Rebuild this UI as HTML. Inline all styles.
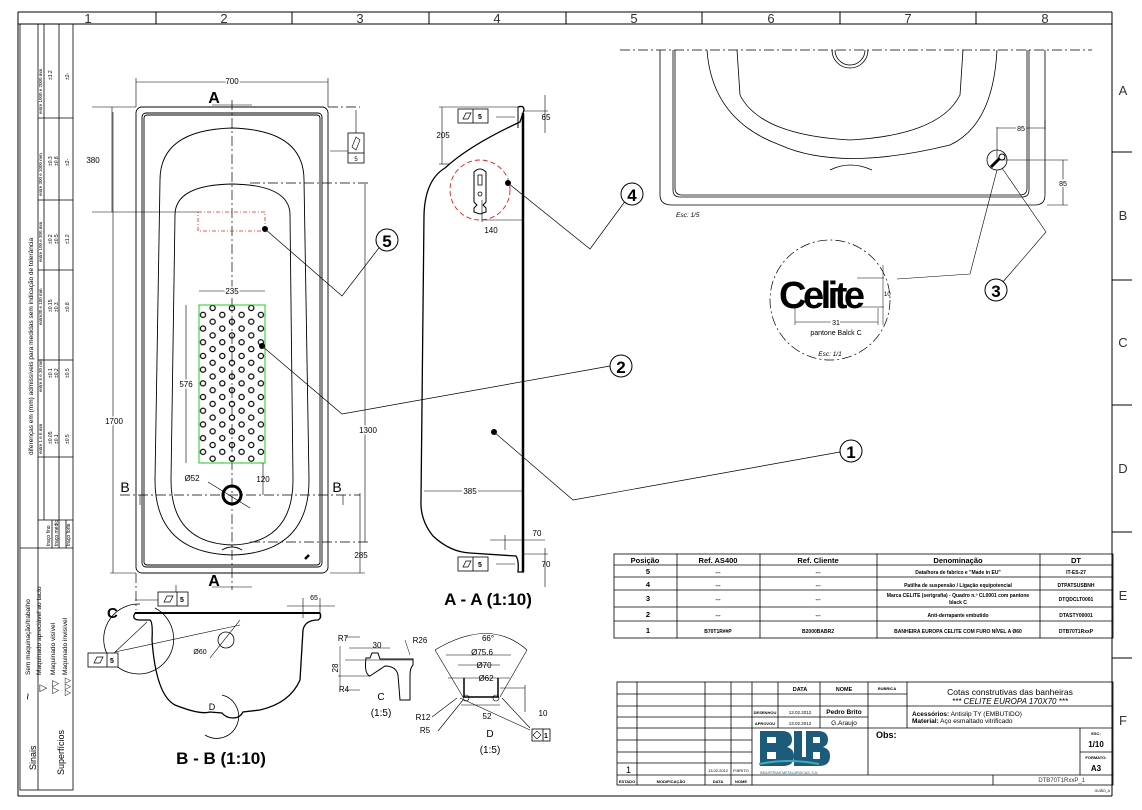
<!DOCTYPE html>
<html><head><meta charset="utf-8"><style>
html,body{margin:0;padding:0;background:#fff;}
svg{display:block;font-family:"Liberation Sans",sans-serif;}
</style></head><body>
<svg width="1142" height="810" viewBox="0 0 1142 810" xmlns="http://www.w3.org/2000/svg">
<defs>
<pattern id="holes" patternUnits="userSpaceOnUse" x="193.35" y="301.15" width="19.3" height="13.7">
<g fill="none" stroke="#000" stroke-width="1.2">
<circle cx="9.65" cy="0" r="2.6"/><circle cx="9.65" cy="13.7" r="2.6"/>
<circle cx="0" cy="6.85" r="2.6"/><circle cx="19.3" cy="6.85" r="2.6"/>
</g></pattern>
</defs>
<rect width="1142" height="810" fill="#fff"/>
<g stroke="#000" fill="none" stroke-width="1">
<line x1="18" y1="12" x2="1112" y2="12"/>
<line x1="18" y1="24" x2="1112" y2="24"/>
<line x1="18" y1="12" x2="18" y2="796"/>
<line x1="1112" y1="12" x2="1112" y2="796"/>
<line x1="18" y1="796" x2="1112" y2="796"/>
<line x1="156" y1="12" x2="156" y2="24"/><line x1="292" y1="12" x2="292" y2="24"/><line x1="429" y1="12" x2="429" y2="24"/><line x1="566" y1="12" x2="566" y2="24"/><line x1="702" y1="12" x2="702" y2="24"/><line x1="840" y1="12" x2="840" y2="24"/><line x1="976" y1="12" x2="976" y2="24"/>
<line x1="1112" y1="152" x2="1132" y2="152"/><line x1="1112" y1="280" x2="1132" y2="280"/><line x1="1112" y1="405" x2="1132" y2="405"/><line x1="1112" y1="532" x2="1132" y2="532"/><line x1="1112" y1="658" x2="1132" y2="658"/>
</g>
<g font-size="13" fill="#333" text-anchor="middle">
<text x="88" y="23">1</text><text x="224" y="23">2</text><text x="360" y="23">3</text><text x="497" y="23">4</text><text x="634" y="23">5</text><text x="771" y="23">6</text><text x="908" y="23">7</text><text x="1045" y="23">8</text>
<text x="1123" y="95">A</text><text x="1123" y="220">B</text><text x="1123" y="347">C</text><text x="1123" y="473">D</text><text x="1123" y="600">E</text><text x="1123" y="725">F</text>
</g>

<g stroke="#000" fill="none" stroke-width="0.8">
<rect x="20" y="24" width="53" height="766"/>
<line x1="20" y1="548" x2="73" y2="548"/>
<line x1="38" y1="24" x2="38" y2="790"/>
<line x1="44" y1="24" x2="44" y2="520"/>
<line x1="59" y1="24" x2="59" y2="548"/>
<line x1="38" y1="520" x2="73" y2="520"/>
<line x1="38" y1="457" x2="73" y2="457"/><line x1="38" y1="360" x2="73" y2="360"/><line x1="38" y1="270" x2="73" y2="270"/><line x1="38" y1="200" x2="73" y2="200"/><line x1="38" y1="118" x2="73" y2="118"/>
<line x1="52" y1="520" x2="52" y2="548"/><line x1="66" y1="520" x2="66" y2="548"/>
</g>
<g font-size="6.5" fill="#000">
<text transform="translate(33,455) rotate(-90)">diferenças em (mm) admissíveis para medidas sem indicação de tolerância</text>
<text transform="translate(42,454) rotate(-90)" font-size="4.5">entre 1 e 6 mm</text>
<text transform="translate(42,392) rotate(-90)" font-size="4.5">entre 6 e 30 mm</text>
<text transform="translate(42,325) rotate(-90)" font-size="4.5">entre30 e 100 mm</text>
<text transform="translate(42,262) rotate(-90)" font-size="4.5">entre 100 e 300 mm</text>
<text transform="translate(42,196) rotate(-90)" font-size="4.5">entre 300 e 1000 mm</text>
<text transform="translate(42,114) rotate(-90)" font-size="4.5">entre 1000 e 2000 mm</text>
<g font-size="5">
<text transform="translate(52,444) rotate(-90)">±0.05</text><text transform="translate(52,378) rotate(-90)">±0.1</text><text transform="translate(52,312) rotate(-90)">±0.15</text><text transform="translate(52,244) rotate(-90)">±0.2</text><text transform="translate(52,166) rotate(-90)">±0.3</text><text transform="translate(52,80) rotate(-90)">±1.2</text>
<text transform="translate(58,444) rotate(-90)">±0.1</text><text transform="translate(58,378) rotate(-90)">±0.2</text><text transform="translate(58,312) rotate(-90)">±0.3</text><text transform="translate(58,244) rotate(-90)">±0.5</text><text transform="translate(58,166) rotate(-90)">±0.8</text>
<text transform="translate(69,444) rotate(-90)">±0.5</text><text transform="translate(69,378) rotate(-90)">±0.5</text><text transform="translate(69,312) rotate(-90)">±0.8</text><text transform="translate(69,244) rotate(-90)">±1.2</text><text transform="translate(69,166) rotate(-90)">±2-</text><text transform="translate(69,80) rotate(-90)">±2-</text>
<text transform="translate(50,546) rotate(-90)">traço fino</text><text transform="translate(58,546) rotate(-90)">traço médio</text><text transform="translate(70,546) rotate(-90)">traço forte</text>
</g>
<text transform="translate(30,675) rotate(-90)">Sem maquinação/trabalho</text>
<text transform="translate(41,675) rotate(-90)">Maquinado apreciável ao tacto</text>
<text transform="translate(55,675) rotate(-90)">Maquinado visível</text>
<text transform="translate(67,675) rotate(-90)">Maquinado invisível</text>
<text transform="translate(36,770) rotate(-90)" font-size="9">Sinais</text>
<text transform="translate(64,775) rotate(-90)" font-size="9">Superfícios</text>
<text transform="translate(32,700) rotate(-90)" font-size="12">~</text>
<text transform="translate(46,692) rotate(-90)" font-size="10">▽</text>
<text transform="translate(58,694) rotate(-90)" font-size="9">▽▽</text>
<text transform="translate(70,696) rotate(-90)" font-size="8">▽▽▽</text>
</g>

<g stroke="#000" fill="none" stroke-width="0.9">
<rect x="136" y="107" width="192" height="466" rx="6"/>
<rect x="142" y="113" width="180" height="454" rx="4"/>
<rect x="144" y="115" width="176" height="450" rx="3"/>
<path d="M160,180 Q160,130 232,128 Q304,130 304,180 L309,480 Q309,553 232,555 Q155,553 155,480 Z"/>
<path d="M175,215 Q175,185 232,184 Q290,185 290,215 L293,480 Q293,543 232,545 Q171,543 171,480 Z"/>
<path d="M222,550 Q232,544 242,550"/>
</g>
<g stroke="#000" fill="none" stroke-width="0.7" stroke-dasharray="10,3,2,3">
<line x1="232" y1="100" x2="232" y2="590"/>
<line x1="120" y1="495" x2="360" y2="495"/>
<line x1="250" y1="183" x2="370" y2="183"/>
<line x1="250" y1="542" x2="370" y2="542"/>
<line x1="328" y1="107" x2="360" y2="107"/>
<line x1="136" y1="573" x2="136" y2="610"/>
</g>
<rect x="199" y="305" width="66" height="158" fill="url(#holes)" stroke="#2c2" stroke-width="1"/>
<rect x="198" y="212" width="67" height="19" fill="none" stroke="#d22" stroke-width="0.8" stroke-dasharray="4,2,1,2"/>
<circle cx="232" cy="495" r="9" fill="none" stroke="#000" stroke-width="3"/>
<line x1="208" y1="482" x2="250" y2="508" stroke="#000" stroke-width="0.7"/>
<path d="M305,559 l4,-4" stroke="#000" stroke-width="2.5"/>
<g stroke="#000" stroke-width="0.6" fill="none">
<line x1="136" y1="82" x2="328" y2="82"/><line x1="136" y1="78" x2="136" y2="107"/><line x1="328" y1="78" x2="328" y2="107"/>
<line x1="112" y1="107" x2="112" y2="212"/><line x1="92" y1="107" x2="136" y2="107"/><line x1="92" y1="212" x2="198" y2="212"/>
<line x1="113" y1="112" x2="113" y2="573"/><line x1="110" y1="573" x2="136" y2="573"/>
<line x1="365" y1="184" x2="365" y2="542"/>
<line x1="360" y1="493" x2="360" y2="573"/><line x1="330" y1="573" x2="365" y2="573"/>
<line x1="186" y1="305" x2="186" y2="463"/>
<line x1="199" y1="291" x2="265" y2="291"/>
<line x1="263" y1="463" x2="263" y2="495"/>
<line x1="330" y1="151" x2="355" y2="151"/><line x1="356" y1="110" x2="356" y2="133"/>
<line x1="212" y1="105" x2="252" y2="105"/><line x1="212" y1="587" x2="252" y2="587"/>
<line x1="140" y1="495" x2="140" y2="505"/><line x1="343" y1="495" x2="343" y2="505"/>
</g>
<g font-size="8" fill="#000" text-anchor="middle">
<text x="232" y="84" stroke="#fff" stroke-width="3" paint-order="stroke">700</text>
<text x="93" y="163">380</text>
<text x="114" y="424" stroke="#fff" stroke-width="3" paint-order="stroke">1700</text>
<text x="368" y="433" stroke="#fff" stroke-width="3" paint-order="stroke">1300</text>
<text x="186" y="387" stroke="#fff" stroke-width="3" paint-order="stroke">576</text>
<text x="232" y="294" stroke="#fff" stroke-width="3" paint-order="stroke">235</text>
<text x="263" y="482">120</text>
<text x="192" y="481">Ø52</text>
<text x="361" y="558">285</text>
</g>
<g font-size="16" font-weight="bold" fill="#000" text-anchor="middle">
<text x="214" y="103">A</text><text x="214" y="586">A</text>
</g>
<g font-size="14" fill="#000" text-anchor="middle"><text x="125" y="492">B</text><text x="337" y="492">B</text></g>
<g stroke="#000" stroke-width="0.8" fill="#fff">
<rect x="348" y="133" width="16" height="30"/><line x1="348" y1="153" x2="364" y2="153"/>
</g>
<path d="M352,147 l4,-10 l4,3 l-4,10z" fill="none" stroke="#000" stroke-width="0.6"/>
<text x="356" y="161" font-size="6" text-anchor="middle">5</text>

<circle cx="265" cy="229" r="3" fill="#000"/>
<polyline points="265,229 342,296 385,240" fill="none" stroke="#000" stroke-width="0.7"/>
<circle cx="387" cy="240" r="11" fill="#fff" stroke="#000"/><text x="387" y="247" font-size="17" font-weight="bold" text-anchor="middle">5</text>
<circle cx="262" cy="346" r="3" fill="#000"/>
<polyline points="262,346 342,414 610,366" fill="none" stroke="#000" stroke-width="0.7"/>
<circle cx="621" cy="366" r="11" fill="#fff" stroke="#000"/><text x="621" y="373" font-size="17" font-weight="bold" text-anchor="middle">2</text>

<g stroke="#000" fill="none">
<line x1="523" y1="113" x2="523" y2="572" stroke-width="2.5"/>
<path d="M518,107 Q524,105 524,110 L520,122 Q470,145 445,168 Q425,180 424,215 L421,500 Q420,520 433,536 Q450,552 470,553 L516,556 Q519,560 518,572 L524,572" stroke-width="1.3"/>
<path d="M518,107 L518,128" stroke-width="1"/>
<circle cx="480" cy="190" r="30" stroke="#d22" stroke-width="0.9" stroke-dasharray="5,3"/>
<path d="M474,172 Q480,166 486,172 L486,202 L483,205 L486,208 L486,212 L480,214 L474,212 L474,208 L477,205 L474,202 Z" stroke-width="1"/>
<path d="M478,175 h4 v10 h-4z" stroke-width="0.8"/>
<circle cx="480" cy="194" r="2" stroke-width="0.8"/>
</g>
<g stroke="#000" stroke-width="0.6" fill="none">
<line x1="442" y1="107" x2="442" y2="164"/><line x1="439" y1="107" x2="518" y2="107"/><line x1="439" y1="164" x2="450" y2="164"/>
<line x1="482" y1="220" x2="522" y2="220"/><line x1="482" y1="200" x2="482" y2="222"/>
<line x1="424" y1="491" x2="522" y2="491"/>
<line x1="545" y1="95" x2="545" y2="133"/><line x1="524" y1="111" x2="548" y2="111"/>
<line x1="545" y1="548" x2="545" y2="587"/><line x1="524" y1="554" x2="548" y2="554"/>
<line x1="490" y1="540" x2="545" y2="540"/><line x1="505" y1="535" x2="505" y2="550"/>
<line x1="496" y1="117" x2="515" y2="117"/><line x1="496" y1="564" x2="515" y2="564"/>
</g>
<g stroke="#000" stroke-width="0.8" fill="#fff">
<rect x="458" y="109" width="30" height="14"/><line x1="473" y1="109" x2="473" y2="123"/>
<rect x="458" y="557" width="30" height="14"/><line x1="473" y1="557" x2="473" y2="571"/>
</g>
<g font-size="7" font-weight="bold" text-anchor="middle">
<text x="480" y="119">5</text><text x="480" y="567">5</text>
<path d="M463,119 l3,-6 h5 l-3,6z M463,567 l3,-6 h5 l-3,6z" fill="none" stroke="#000" stroke-width="0.7"/>
</g>
<g font-size="8" fill="#000" text-anchor="middle">
<text x="443" y="138">205</text><text x="491" y="233">140</text><text x="470" y="494" stroke="#fff" stroke-width="3" paint-order="stroke">385</text>
<text x="546" y="120">65</text><text x="546" y="567">70</text><text x="537" y="536">70</text>
</g>
<text x="488" y="605" font-size="17" font-weight="bold" text-anchor="middle">A - A (1:10)</text>
<circle cx="508" cy="183" r="3" fill="#000"/>
<polyline points="508,183 590,249 626,200" fill="none" stroke="#000" stroke-width="0.7"/>
<circle cx="632" cy="194" r="11" fill="#fff" stroke="#000"/><text x="632" y="201" font-size="17" font-weight="bold" text-anchor="middle">4</text>
<circle cx="494" cy="432" r="3" fill="#000"/>
<polyline points="494,432 573,500 840,452" fill="none" stroke="#000" stroke-width="0.7"/>
<circle cx="851" cy="451" r="11" fill="#fff" stroke="#000"/><text x="851" y="458" font-size="17" font-weight="bold" text-anchor="middle">1</text>

<g stroke="#000" fill="none">
<line x1="135" y1="613" x2="320" y2="613" stroke-width="2"/>
<path d="M135,613 Q131,620 140,620 L150,620 Q153,622 152,640 Q156,695 175,705 Q200,715 210,712 L222,713 Q226,718 233,718 Q240,718 243,712 L260,710 Q290,703 300,680 L303,630 Q305,620 318,620 Q322,618 320,613" stroke-width="1.3"/>
<circle cx="226" cy="640" r="8" stroke-width="0.8"/>
<line x1="115" y1="652" x2="240" y2="625" stroke-width="0.6"/>
<line x1="210" y1="658" x2="240" y2="620" stroke-width="0.6"/>
<path d="M155,608 A35,35 0 1 1 140,604" stroke-width="0.8"/>
<path d="M205,735 A22,22 0 1 0 222,695" stroke-width="0.8"/>
<line x1="112" y1="655" x2="147" y2="622" stroke-width="0.6"/>
<line x1="287" y1="606" x2="335" y2="606" stroke-width="0.6"/>
<line x1="303" y1="598" x2="303" y2="618" stroke-width="0.6"/>
<line x1="320" y1="598" x2="320" y2="618" stroke-width="0.6"/>
<line x1="176" y1="603" x2="176" y2="585" stroke-width="0.6"/>
<line x1="135" y1="600" x2="158" y2="600" stroke-width="0.6"/>
</g>
<g stroke="#000" stroke-width="0.8" fill="#fff">
<rect x="158" y="592" width="30" height="14"/><line x1="177" y1="592" x2="177" y2="606"/>
<rect x="88" y="653" width="30" height="14"/><line x1="107" y1="653" x2="107" y2="667"/>
</g>
<g font-size="7" font-weight="bold" text-anchor="middle"><text x="182" y="602">5</text><text x="112" y="663">5</text></g>
<path d="M164,602 l3,-6 h6 l-3,6z M94,663 l3,-6 h6 l-3,6z" fill="none" stroke="#000" stroke-width="0.7"/>
<text x="107" y="618" font-size="15" font-weight="bold">C</text>
<text x="212" y="710" font-size="9" text-anchor="middle">D</text>
<text x="200" y="654" font-size="7" text-anchor="middle">Ø60</text>
<text x="314" y="600" font-size="7" text-anchor="middle">65</text>
<text x="221" y="764" font-size="17" font-weight="bold" text-anchor="middle">B - B (1:10)</text>

<g stroke="#000" fill="none" stroke-width="1">
<path d="M366,658 L370,658 L372,653 L378,653 L380,659 L413,659 L413,665 Q410,668 410,675 L410,700 L400,700 L398,675 Q396,666 385,666 L370,676 Q364,674 366,658 Z"/>
<line x1="345" y1="660" x2="413" y2="660" stroke-width="0.5"/>
<line x1="338" y1="676" x2="370" y2="676" stroke-width="0.5"/>
<line x1="340" y1="646" x2="340" y2="690" stroke-width="0.5"/>
<line x1="349" y1="648" x2="390" y2="648" stroke-width="0.5"/>
<line x1="345" y1="637" x2="360" y2="637" stroke-width="0.5"/>
<line x1="345" y1="690" x2="360" y2="690" stroke-width="0.5"/>
<line x1="405" y1="640" x2="410" y2="655" stroke-width="0.5"/>
</g>
<g font-size="8" text-anchor="middle"><text x="343" y="641">R7</text><text x="377" y="648">30</text><text x="420" y="643">R26</text><text x="344" y="692">R4</text><text x="336" y="670" transform="rotate(-90,336,668)">28</text>
<text x="381" y="700" font-size="10">C</text><text x="381" y="716" font-size="10">(1:5)</text></g>

<g stroke="#000" fill="none" stroke-width="0.6">
<path d="M435,650 Q490,617 527,650"/>
<line x1="435" y1="650" x2="463" y2="697"/><line x1="527" y1="650" x2="500" y2="697"/>
<line x1="446" y1="655" x2="511" y2="655"/><line x1="458" y1="665" x2="500" y2="665"/><line x1="448" y1="678" x2="510" y2="678"/>
<path d="M464,678 L464,697 L498,697 L498,678" stroke-width="1.5"/>
<circle cx="466" cy="698" r="3"/><circle cx="496" cy="698" r="3"/>
<line x1="461" y1="705" x2="500" y2="705"/>
<line x1="460" y1="698" x2="530" y2="730"/><line x1="502" y1="698" x2="530" y2="728"/>
<line x1="457" y1="698" x2="432" y2="717"/><line x1="463" y1="700" x2="438" y2="731"/>
<line x1="500" y1="688" x2="525" y2="688"/><line x1="525" y1="685" x2="525" y2="712"/>
</g>
<g stroke="#000" stroke-width="0.8" fill="#fff"><rect x="532" y="729" width="18" height="12"/><line x1="543" y1="729" x2="543" y2="741"/></g>
<text x="546" y="738" font-size="7" font-weight="bold" text-anchor="middle">1</text>
<path d="M533,735 l4,-4 l4,4 l-4,4z" fill="none" stroke="#000" stroke-width="0.6"/>
<g font-size="8" text-anchor="middle"><text x="488" y="641">66°</text><text x="482" y="655">Ø75.6</text><text x="484" y="668">Ø70</text><text x="486" y="681">Ø62</text><text x="487" y="719">52</text><text x="543" y="716">10</text><text x="423" y="720">R12</text><text x="425" y="733">R5</text>
<text x="490" y="737" font-size="10">D</text><text x="490" y="753" font-size="10">(1:5)</text></g>

<line x1="620" y1="50" x2="1092" y2="50" stroke="#000" stroke-width="0.7" stroke-dasharray="10,3,2,3"/>
<g stroke="#000" fill="none" stroke-width="0.8">
<path d="M660,50 L660,195 Q660,205 672,205 L1035,205 Q1045,205 1045,195 L1045,50"/>
<path d="M673,50 L673,190 Q673,197 680,197 L1022,197 Q1029,197 1029,190 L1029,50"/>
<path d="M675,50 L675,188 Q675,195 682,195 L1020,195 Q1027,195 1027,188 L1027,50"/>
<path d="M707,50 Q712,120 780,145 Q840,172 950,145 Q993,125 997,50"/>
<path d="M737,50 L740,95 Q760,135 850,140 Q940,135 960,95 L963,50"/>
<path d="M830,170 Q850,160 872,170"/>
<path d="M832,50 A12,12 0 0 0 868,50"/><path d="M835,50 A10,10 0 0 0 865,50"/>
<circle cx="997" cy="160" r="10"/>
</g>
<path d="M991,167 l10,-10" stroke="#000" stroke-width="3"/><circle cx="1002" cy="157" r="3" fill="#fff" stroke="#000"/>
<g stroke="#000" stroke-width="0.6" fill="none">
<line x1="997" y1="127" x2="997" y2="158"/><line x1="997" y1="128" x2="1045" y2="128"/><line x1="1045" y1="120" x2="1045" y2="130"/>
<line x1="1000" y1="160" x2="1068" y2="160"/><line x1="1063" y1="160" x2="1063" y2="205"/><line x1="1047" y1="205" x2="1068" y2="205"/>
</g>
<text x="1021" y="131" font-size="7" text-anchor="middle" stroke="#fff" stroke-width="3" paint-order="stroke">85</text>
<text x="1063" y="186" font-size="7" text-anchor="middle" stroke="#fff" stroke-width="3" paint-order="stroke">85</text>
<text x="676" y="217" font-size="6.5" font-style="italic">Esc: 1/5</text>
<circle cx="830" cy="300" r="60" fill="none" stroke="#000" stroke-width="0.7" stroke-dasharray="10,3,2,3"/>
<text x="779" y="308" font-size="38" font-weight="bold" letter-spacing="-3.5">Celite</text>
<g stroke="#000" stroke-width="0.5" fill="none"><line x1="795" y1="322" x2="878" y2="322"/><line x1="795" y1="308" x2="795" y2="325"/><line x1="878" y1="308" x2="878" y2="325"/><line x1="857" y1="278" x2="884" y2="278"/><line x1="857" y1="307" x2="884" y2="307"/><line x1="883" y1="265" x2="883" y2="325"/></g>
<text x="836" y="325" font-size="7" text-anchor="middle" stroke="#fff" stroke-width="3" paint-order="stroke">31</text>
<text x="884" y="296" font-size="6">10</text>
<text x="836" y="335" font-size="7" text-anchor="middle">pantone Balck C</text>
<text x="830" y="356" font-size="6.5" font-style="italic" text-anchor="middle">Esc: 1/1</text>
<polyline points="997,170 970,274 897,279" fill="none" stroke="#000" stroke-width="0.6"/>
<polyline points="1002,168 1046,232 1002,283" fill="none" stroke="#000" stroke-width="0.6"/>
<circle cx="996" cy="290" r="11" fill="#fff" stroke="#000"/><text x="996" y="297" font-size="17" font-weight="bold" text-anchor="middle">3</text>

<g stroke="#000" stroke-width="0.8" fill="none">
<rect x="614" y="554" width="499" height="84"/>
<line x1="614" y1="565" x2="1113" y2="565"/><line x1="614" y1="577" x2="1113" y2="577"/><line x1="614" y1="590" x2="1113" y2="590"/><line x1="614" y1="607" x2="1113" y2="607"/><line x1="614" y1="621" x2="1113" y2="621"/>
<line x1="677" y1="554" x2="677" y2="638"/><line x1="760" y1="554" x2="760" y2="638"/><line x1="877" y1="554" x2="877" y2="638"/><line x1="1040" y1="554" x2="1040" y2="638"/>
</g>
<g font-size="7.5" font-weight="bold" text-anchor="middle">
<text x="645" y="563">Posição</text><text x="718" y="563">Ref. AS400</text><text x="818" y="563">Ref. Cliente</text><text x="958" y="563">Denominação</text><text x="1076" y="563">DT</text>
<text x="648" y="574">5</text><text x="648" y="587">4</text><text x="648" y="601">3</text><text x="648" y="617">2</text><text x="648" y="633">1</text>
</g>
<g font-size="5" font-weight="bold" text-anchor="middle">
<text x="718" y="574">---</text><text x="818" y="574">---</text><text x="958" y="574">Data/hora de fabrico e "Made in EU"</text><text x="1076" y="574">IT-ES-27</text>
<text x="718" y="587">---</text><text x="818" y="587">---</text><text x="958" y="587">Patilha de suspensão / Ligação equipotencial</text><text x="1076" y="587">DTPATSUSBNH</text>
<text x="718" y="601">---</text><text x="818" y="601">---</text><text x="958" y="597">Marca CELITE (serigrafia) - Quadro n.º CL0001 com pantone</text><text x="958" y="604">black C</text><text x="1076" y="601">DTQDCLT0001</text>
<text x="718" y="617">---</text><text x="818" y="617">---</text><text x="958" y="617">Anti-derrapante embutido</text><text x="1076" y="617">DTASTY00001</text>
<text x="718" y="633">B70T1R##P</text><text x="818" y="633">B2000BABR2</text><text x="958" y="633">BANHEIRA EUROPA CELITE COM FURO NÍVEL A Ø60</text><text x="1076" y="633">DTB70T1RxxP</text>
</g>

<g stroke="#000" stroke-width="0.8" fill="none">
<rect x="617" y="682" width="496" height="103"/>
<line x1="617" y1="775" x2="1113" y2="775"/>
<line x1="617" y1="694" x2="907" y2="694"/><line x1="617" y1="706" x2="1113" y2="706"/><line x1="617" y1="717" x2="868" y2="717"/><line x1="617" y1="728" x2="1113" y2="728"/><line x1="617" y1="740" x2="752" y2="740"/><line x1="617" y1="752" x2="752" y2="752"/><line x1="617" y1="763" x2="752" y2="763"/>
<line x1="1080" y1="752" x2="1113" y2="752"/>
<line x1="637" y1="682" x2="637" y2="785"/><line x1="705" y1="682" x2="705" y2="785"/><line x1="731" y1="682" x2="731" y2="785"/><line x1="752" y1="682" x2="752" y2="785"/>
<line x1="778" y1="682" x2="778" y2="728"/><line x1="820" y1="682" x2="820" y2="728"/><line x1="868" y1="682" x2="868" y2="775"/><line x1="907" y1="682" x2="907" y2="728"/>
<line x1="1080" y1="728" x2="1080" y2="775"/><line x1="993" y1="775" x2="993" y2="785"/>
</g>
<g font-size="5.5" font-weight="bold" text-anchor="middle">
<text x="800" y="691">DATA</text><text x="844" y="691">NOME</text><text x="887" y="690" font-size="4">RUBRICA</text>
<text x="765" y="714" font-size="4">DESENHOU</text><text x="765" y="725" font-size="4">APROVOU</text>
<text x="800" y="714" font-size="4.5" font-weight="normal">13.02.2012</text><text x="800" y="725" font-size="4.5" font-weight="normal">13.02.2012</text>
<text x="844" y="714" font-size="6.5">Pedro Brito</text><text x="844" y="725" font-size="6.5" font-weight="normal">G.Araujo</text>
<text x="627" y="783" font-size="4">ESTADO</text><text x="671" y="783" font-size="4">MODIFICAÇÃO</text><text x="718" y="783" font-size="4">DATA</text><text x="741" y="783" font-size="4">NOME</text>
<text x="718" y="772" font-size="4" font-weight="normal">13.02.2012</text><text x="741" y="772" font-size="4" font-weight="normal">P.BRITO</text>
<text x="1096" y="735" font-size="4">ESC:</text><text x="1096" y="759" font-size="4">FORMATO:</text>
</g>
<text x="626" y="773" font-size="9">1</text>
<text x="1096" y="747" font-size="8" font-weight="bold" text-anchor="middle">1/10</text>
<text x="1096" y="771" font-size="8" font-weight="bold" text-anchor="middle">A3</text>
<text x="1010" y="695" font-size="8.5" text-anchor="middle">Cotas construtivas das banheiras</text>
<text x="1010" y="704" font-size="8" font-style="italic" text-anchor="middle">*** CELITE EUROPA 170X70 ***</text>
<text x="912" y="716" font-size="6.5"><tspan font-weight="bold">Acessórios:</tspan> Antislip TY (EMBUTIDO)</text>
<text x="912" y="723" font-size="6.5"><tspan font-weight="bold">Material:</tspan>  Aço esmaltado vitrificado</text>
<text x="876" y="738" font-size="9" font-weight="bold">Obs:</text>
<text x="1085" y="782" font-size="6" fill="#333" text-anchor="end">DTB70T1RxxP_1</text>
<text x="1110" y="792" font-size="3.5" text-anchor="end">GUIÃO_A</text>
<g fill="#1d5b7a">
<path d="M760,731 h22 q10,0 10,9 q0,5 -5,7 q7,2 7,9 q0,10 -11,10 h-23z"/>
<path d="M794,731 h8 v26 h10 v9 h-18z"/>
<path d="M806,731 h12 q10,0 10,9 q0,5 -5,7 q7,2 7,9 q0,10 -11,10 h-13z"/>
</g>
<g fill="#fff"><rect x="767" y="737" width="9" height="6"/><rect x="767" y="752" width="9" height="7"/><rect x="813" y="737" width="7" height="6"/><rect x="813" y="752" width="7" height="7"/></g>
<path d="M759,764 q30,-6 60,0" stroke="#4ab" stroke-width="2" fill="none"/>
<text x="760" y="774" font-size="3.5" fill="#1d5b7a">INDUSTRIAS METALURGICAS, S.A.</text>
</svg>
</body></html>
